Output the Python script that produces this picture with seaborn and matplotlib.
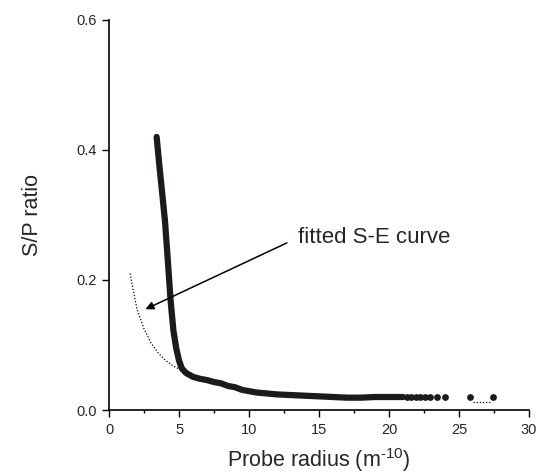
import matplotlib
matplotlib.use("Agg")
import matplotlib.pyplot as plt
import numpy as np
import pandas as pd
import seaborn as sns
from matplotlib.ticker import MultipleLocator

# measured S/P ratio vs probe radius (dense part of the curve)
radius = [3.4, 3.6, 3.8, 4.0, 4.2, 4.4, 4.6, 4.8, 5.0, 5.2, 5.5, 6.0, 6.5, 7.0,
          7.5, 8.0, 8.5, 9.0, 9.5, 10.0, 10.5, 11.0, 12.0, 13.0, 14.0, 15.0,
          16.0, 17.0, 18.0, 19.0, 20.0, 21.0]
sp_ratio = [0.42, 0.375, 0.333, 0.29, 0.23, 0.168, 0.122, 0.095, 0.076, 0.064,
            0.057, 0.051, 0.048, 0.046, 0.043, 0.041, 0.037, 0.035, 0.031,
            0.029, 0.027, 0.026, 0.024, 0.023, 0.022, 0.021, 0.020, 0.019,
            0.019, 0.020, 0.020, 0.020]

# sparse tail points
tail_radius = [21.3, 21.6, 21.9, 22.2, 22.6, 22.95, 23.45, 24.0, 25.75, 27.4]
tail_ratio = [0.020, 0.020, 0.020, 0.020, 0.020, 0.020, 0.020, 0.020, 0.020, 0.020]

# fitted S-E curve (visible parts)
fit_radius = [1.5, 2.0, 2.5, 3.0, 3.5, 4.0, 4.5, 5.0]
fit_ratio = [0.21, 0.155, 0.125, 0.103, 0.088, 0.077, 0.069, 0.063]
fit_tail_radius = [26.0, 27.3]
fit_tail_ratio = [0.013, 0.013]

sns.set_style("ticks")
plt.rcParams['font.family'] = ['Liberation Sans', 'DejaVu Sans']
plt.rcParams['mathtext.fontset'] = 'custom'
plt.rcParams['mathtext.rm'] = 'Liberation Sans'

fig = plt.figure(figsize=(5.41, 4.74), dpi=100)
ax = fig.add_axes([0.2015, 0.135, 0.7765, 0.823])

sns.lineplot(x=fit_radius, y=fit_ratio, ax=ax, color='black', lw=0.9,
             linestyle=(0, (1, 1.5)))
sns.lineplot(x=fit_tail_radius, y=fit_tail_ratio, ax=ax, color='black', lw=0.9,
             linestyle=(0, (1, 1.5)))
sns.lineplot(x=radius, y=sp_ratio, ax=ax, color='#1e1a1a', lw=4.5,
             solid_capstyle='round')
sns.scatterplot(x=tail_radius, y=tail_ratio, ax=ax, color='#1e1a1a', s=24,
                linewidth=0)

ax.annotate('', xy=(2.6, 0.155), xytext=(12.7, 0.257),
            arrowprops=dict(arrowstyle='-|>', color='black', lw=1.1,
                            shrinkA=0, shrinkB=0, mutation_scale=12))
ax.text(13.5, 0.2565, 'fitted S-E curve', fontsize=16, va='baseline', ha='left')

ax.set_xlim(0, 30)
ax.set_ylim(0, 0.6)
ax.xaxis.set_major_locator(MultipleLocator(5))
ax.xaxis.set_minor_locator(MultipleLocator(2.5))
ax.set_yticks([0.0, 0.2, 0.4, 0.6], ['0.0', '0.2', '0.4', '0.6'])
ax.tick_params(which='major', length=5, width=1, labelsize=10.5, color='black',
               pad=4)
ax.tick_params(which='minor', length=2.5, width=1, color='black')
for s in ['left', 'bottom']:
    ax.spines[s].set_linewidth(1.2)
    ax.spines[s].set_color('black')
sns.despine(ax=ax)

ax.set_xlabel('Probe radius (m$^{\\text{-10}}$)', fontsize=15.5, labelpad=7)
ax.set_ylabel('S/P ratio', fontsize=15.5, labelpad=24)

fig.savefig('out.png', dpi=100)
